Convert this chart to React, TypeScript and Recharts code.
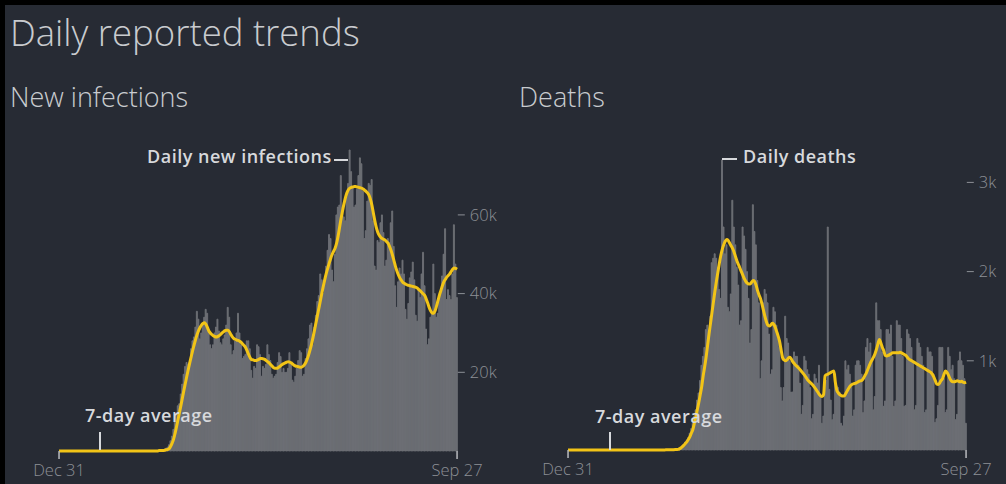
import React from 'react';
import { ComposedChart, Bar, Line, XAxis, YAxis } from 'recharts';

// Daily reported trends, Dec 31 2019 - Sep 27 2020 (one value per day)
const START_DATE = '2019-12-31';
const X_TICKS = ['Dec 31', 'Sep 27'];
const INFECTION_TICKS = [20, 40, 60];
const DEATH_TICKS = [1000, 2000, 3000];

// new infections, thousands
const infectionsDaily = [
  0,
  0, 0, 0, 0, 0, 0, 0, 0, 0, 0, 0, 0, 0, 0, 0, 0, 0, 0, 0, 0, 0, 0, 0, 0, 0, 0, 0, 0, 0, 0, 0,
  0, 0, 0, 0, 0, 0, 0, 0, 0, 0, 0, 0, 0, 0, 0, 0, 0, 0, 0, 0, 0, 0, 0, 0, 0, 0, 0, 0, 0,
  0, 0, 0, 0, 0.1, 0.1, 0.1, 0.1, 0.2, 0.3, 0.4, 0.5, 0.7, 1.0, 1.6, 2.6, 3.8, 5.5, 7.5, 9.5,
  11.5, 12.0, 14.5, 17.0, 19.5, 21.5, 22.5, 22.0, 22.5, 26.0, 28.0,
  29.0, 31.5, 35.5, 33.5, 28.5, 30.0, 32.0, 34.0, 36.0, 35.0, 31.0, 27.0, 26.0, 27.0, 30.0,
  31.5, 33.5, 30.5, 27.5, 27.0, 28.5, 29.5, 32.0, 36.5, 34.0, 27.0, 24.5, 25.5, 28.0, 30.0,
  35.0, 30.0, 27.0, 23.5, 24.0, 24.5, 28.0, 28.0, 26.0, 20.5, 18.5, 21.5, 21.0, 27.0, 26.5, 24.5,
  19.0, 21.5, 21.0, 22.0, 27.0, 24.5, 23.0, 19.5, 18.5, 19.0, 19.5, 22.5, 25.0, 24.0, 20.0,
  21.0, 20.0, 20.0, 21.0, 25.0, 22.5, 18.0, 17.5, 19.0, 21.0, 23.0, 25.5, 25.0, 19.0, 19.5,
  23.5, 26.0, 28.5, 32.0, 32.5, 27.0, 31.5, 34.5, 38.0, 39.5, 45.0, 43.5, 40.0, 42.5, 47.0,
  51.0, 55.0, 54.0, 46.0, 43.0, 50.0, 60.0, 62.0, 62.5, 70.0, 62.0, 59.5, 58.5, 64.5, 68.0, 76.5,
  71.0, 67.0, 62.0, 62.5, 66.5, 70.0, 74.5, 73.0, 66.0, 54.0, 56.0, 63.5, 68.0, 67.5, 69.0,
  58.5, 47.0, 46.0, 53.5, 53.0, 58.0, 60.0, 55.5, 47.0, 48.5, 54.0, 53.0, 58.0, 61.0, 52.0, 42.0,
  36.5, 43.0, 46.5, 45.0, 48.5, 45.0, 36.0, 33.5, 37.5, 44.0, 45.5, 48.0, 43.5, 34.5, 33.0,
  41.0, 39.0, 45.0, 50.5, 42.0, 31.0, 27.0, 28.5, 34.0, 35.5, 47.5, 40.0, 34.0, 35.0,
  39.5, 40.5, 44.5, 50.0, 56.5, 38.5, 41.0, 39.5, 38.5, 45.0, 57.5, 47.5, 39.0,
];

const infectionsAvg = [
  0,
  0, 0, 0, 0, 0, 0, 0, 0, 0, 0, 0, 0, 0, 0, 0, 0, 0, 0, 0, 0, 0, 0, 0, 0, 0, 0, 0, 0, 0, 0, 0,
  0, 0, 0, 0, 0, 0, 0, 0, 0, 0, 0, 0, 0, 0, 0, 0, 0, 0, 0, 0, 0, 0, 0, 0, 0, 0, 0, 0, 0,
  0, 0, 0, 0, 0, 0, 0, 0.1, 0.1, 0.1, 0.1, 0.2, 0.3, 0.4, 0.6, 1.2, 2.0, 3.0, 4.5, 6.2,
  8.0, 9.8, 11.6, 13.5, 15.4, 17.2, 19.0, 20.7, 22.4, 24.0, 25.6,
  27.0, 28.4, 29.6, 30.6, 31.4, 32.0, 32.4, 32.6, 32.2, 31.4, 30.5, 30.0, 29.6, 29.3, 29.1,
  29.0, 29.1, 29.3, 29.6, 30.0, 30.3, 30.6, 30.7, 30.7, 30.3, 29.6, 29.0, 28.6, 28.4, 28.2,
  28.1, 27.9, 27.6, 27.2, 26.8, 26.3, 25.5, 24.6, 23.8, 23.2, 23.2, 23.0, 23.0, 23.1, 23.3, 23.5,
  23.5, 23.4, 23.3, 23.0, 22.7, 22.4, 22.0, 21.6, 21.2, 21.0, 21.0, 21.1, 21.4, 21.7, 22.0,
  22.2, 22.4, 22.6, 22.7, 22.6, 22.4, 22.1, 21.8, 21.6, 21.5, 21.4, 21.3, 21.3, 21.5, 21.9,
  22.5, 23.4, 24.5, 25.8, 27.3, 29.0, 30.8, 32.7, 34.6, 36.4, 38.3, 40.2, 42.0, 43.7, 45.2,
  46.5, 47.8, 49.0, 50.0, 50.8, 51.6, 52.8, 54.6, 56.8, 59.0, 61.0, 62.8, 64.4, 65.6, 66.4, 66.8,
  67.0, 67.1, 67.2, 67.2, 67.1, 67.0, 66.9, 66.8, 66.6, 66.3, 66.0, 65.6, 65.0, 64.0, 62.5,
  60.5, 58.5, 56.8, 55.6, 54.8, 54.3, 54.0, 53.8, 53.6, 53.2, 52.8, 52.0, 51.0, 49.8, 48.4, 47.0,
  45.8, 44.8, 44.0, 43.4, 42.9, 42.6, 42.4, 42.2, 42.1, 42.0, 41.9, 41.8, 41.7, 41.6, 41.4,
  41.0, 40.7, 40.3, 39.9, 39.5, 38.6, 37.6, 36.5, 35.6, 35.1, 35.0, 35.6, 36.8, 38.2,
  39.6, 40.8, 42.0, 43.0, 43.6, 44.2, 44.6, 45.0, 45.6, 46.2, 46.5, 46.4, 46.2,
];

// deaths, people
const deathsDaily = [
  0,
  0, 0, 0, 0, 0, 0, 0, 0, 0, 0, 0, 0, 0, 0, 0, 0, 0, 0, 0, 0, 0, 0, 0, 0, 0, 0, 0, 0, 0, 0, 0,
  0, 0, 0, 0, 0, 0, 0, 0, 0, 0, 0, 0, 0, 0, 0, 0, 0, 0, 0, 0, 0, 0, 0, 0, 0, 0, 0, 0, 1,
  0, 1, 4, 1, 1, 2, 2, 1, 4, 4, 4, 7, 9, 10, 10, 20, 30, 45, 65, 90,
  110, 140, 190, 240, 300, 380, 450, 560, 640, 780, 950,
  1050, 1150, 1350, 1400, 1250, 1500, 2100, 2150, 2200, 2150, 2050, 1800, 1700, 3250, 2500,
  2200, 2300, 1600, 1550, 1750, 2800, 2500, 2300, 2050, 1850, 1400, 1450, 2500, 2400, 2250,
  2000, 1700, 1200, 1350, 2750, 2450, 2300, 1900, 1650, 800, 1000, 1650, 1800, 1750, 1650, 1300,
  850, 900, 1600, 1550, 1400, 1250, 1150, 700, 550, 700, 1500, 1250, 1200, 1000, 650,
  650, 1100, 1050, 1050, 950, 750, 400, 500, 1050, 1000, 900, 850, 700, 350, 400,
  850, 800, 750, 950, 600, 300, 380, 750, 780, 2500, 680, 560, 340, 400, 850,
  720, 700, 650, 300, 270, 380, 1000, 900, 950, 850, 750, 380, 450, 950, 1000, 1000,
  950, 850, 420, 550, 1150, 1250, 1100, 1200, 1000, 450, 600, 1650, 1450, 1450, 1350,
  1100, 490, 550, 1350, 1350, 1300, 1400, 1050, 490, 550, 1450, 1400, 1400, 1250, 1050, 490,
  500, 1350, 1300, 1250, 1150, 1000, 450, 500, 1250, 1200, 1150, 1050, 950, 420, 450,
  1150, 1100, 1100, 1050, 850, 310, 350, 500, 1150, 1150, 1150, 800, 420, 450,
  1150, 1050, 900, 950, 800, 340, 400, 1000, 1100, 1000, 950, 800, 300,
];

const deathsAvg = [
  0,
  0, 0, 0, 0, 0, 0, 0, 0, 0, 0, 0, 0, 0, 0, 0, 0, 0, 0, 0, 0, 0, 0, 0, 0, 0, 0, 0, 0, 0, 0, 0,
  0, 0, 0, 0, 0, 0, 0, 0, 0, 0, 0, 0, 0, 0, 0, 0, 0, 0, 0, 0, 0, 0, 0, 0, 0, 0, 0, 0, 0,
  0, 0, 0, 0, 1, 1, 2, 2, 2, 2, 3, 4, 5, 6, 7, 15, 25, 40, 55, 75,
  95, 120, 150, 190, 230, 300, 370, 450, 530, 620, 710,
  830, 930, 1040, 1170, 1300, 1420, 1540, 1660, 1780, 1890, 1990, 2090, 2180, 2250, 2300,
  2340, 2360, 2350, 2320, 2290, 2260, 2220, 2170, 2120, 2080, 2040, 2000, 1960, 1920, 1890,
  1870, 1860, 1860, 1880, 1900, 1890, 1850, 1790, 1740, 1700, 1640, 1570, 1500, 1440, 1400, 1390,
  1400, 1420, 1410, 1380, 1330, 1280, 1220, 1130, 1040, 1010, 1000, 1010, 1030, 1040, 1020,
  990, 970, 950, 935, 920, 900, 880, 860, 840, 815, 790, 770, 755, 740, 720,
  700, 675, 650, 625, 605, 600, 620, 830, 845, 850, 860, 870, 880, 885, 760,
  670, 640, 620, 610, 605, 605, 630, 660, 690, 715, 730, 740, 745, 750, 760, 770,
  775, 780, 800, 830, 860, 900, 940, 980, 1010, 1040, 1080, 1130, 1190, 1240, 1200,
  1150, 1110, 1060, 1055, 1060, 1070, 1080, 1090, 1090, 1090, 1090, 1090, 1095, 1090, 1080, 1070,
  1060, 1040, 1020, 1010, 1000, 990, 980, 970, 960, 950, 940, 930, 920, 910, 900,
  890, 880, 870, 850, 820, 780, 740, 735, 750, 780, 800, 850, 885, 870,
  840, 800, 775, 765, 765, 770, 775, 770, 765, 770, 760, 755, 760,
];

const MONTHS = ['Jan', 'Feb', 'Mar', 'Apr', 'May', 'Jun', 'Jul', 'Aug', 'Sep', 'Oct', 'Nov', 'Dec'];

const dates = infectionsDaily.map((_, i) => {
  const d = new Date(START_DATE + 'T00:00:00Z');
  d.setUTCDate(d.getUTCDate() + i);
  return `${MONTHS[d.getUTCMonth()]} ${d.getUTCDate()}`;
});

const infectionRows = dates.map((date, i) => ({ date, daily: infectionsDaily[i], avg: infectionsAvg[i] }));
const deathRows = dates.map((date, i) => ({ date, daily: deathsDaily[i], avg: deathsAvg[i] }));

const BG = '#272b34';
const BAR = '#6e7176';
const YELLOW = '#f2c417';
const TEXT = '#c9cbcf';
const NOTE = '#d7d9dc';
const TICK = '#8d9096';
const FONT = '"Open Sans", sans-serif';

const tickStyle = { fill: TICK, fontSize: 16.5, fontFamily: FONT, fontWeight: 300 };

const PLOT_W = 399.5;

interface PanelProps {
  rows: { date: string; daily: number; avg: number }[];
  left: number;
  width: number;
  top: number;
  xHeight: number;
  domain: [number, number];
  ticks: number[];
  fmt: (v: number) => string;
  yWidth: number;
}

const Panel: React.FC<PanelProps> = ({ rows, left, width, top, xHeight, domain, ticks, fmt, yWidth }) => (
  <div style={{ position: 'absolute', left, top: 0 }}>
    <ComposedChart
      width={width}
      height={484}
      data={rows}
      margin={{ top, right: 0.2, bottom: 0, left: 58.3 }}
      barCategoryGap={0}
      barGap={0}
    >
      <XAxis
        dataKey="date"
        ticks={X_TICKS}
        interval={0}
        axisLine={false}
        tickLine={{ stroke: '#b9bbbf', strokeWidth: 1.5 }}
        tickSize={8}
        tickMargin={5}
        height={xHeight}
        tick={tickStyle}
      />
      <YAxis
        orientation="right"
        domain={domain}
        ticks={ticks}
        tickFormatter={fmt}
        axisLine={false}
        tickLine={{ stroke: TICK, strokeWidth: 1 }}
        tickSize={7}
        tickMargin={5}
        width={yWidth}
        tick={tickStyle}
      />
      <Bar dataKey="daily" fill={BAR} stroke={BAR} strokeWidth={0.9} isAnimationActive={false} />
      <Line
        dataKey="avg"
        type="monotone"
        stroke={YELLOW}
        strokeWidth={3}
        dot={false}
        isAnimationActive={false}
      />
    </ComposedChart>
  </div>
);

const noteStyle = { fill: NOTE, fontSize: 18, fontFamily: FONT, fontWeight: 600, letterSpacing: 0.5 };

export default function App() {
  return (
    <div style={{ position: 'relative', width: 1006, height: 484, background: BG, overflow: 'hidden' }}>
      <style>{`body{margin:0;background:#000}`}</style>
      <Panel
        rows={infectionRows}
        left={0}
        width={58.3 + PLOT_W + 50 + 0.2}
        top={136.2}
        xHeight={33}
        domain={[0, 80]}
        ticks={INFECTION_TICKS}
        fmt={(v) => `${v}k`}
        yWidth={50}
      />
      <Panel
        rows={deathRows}
        left={509}
        width={58.3 + PLOT_W + 39 + 0.2}
        top={137.8}
        xHeight={34}
        domain={[0, 3500]}
        ticks={DEATH_TICKS}
        fmt={(v) => `${v / 1000}k`}
        yWidth={39}
      />
      <svg width={1006} height={484} style={{ position: 'absolute', left: 0, top: 0, pointerEvents: 'none' }}>
        {/* dark frame of the original screenshot */}
        <rect x={0} y={0} width={1006} height={5} fill="#000" />
        <rect x={0} y={0} width={5} height={484} fill="#000" />

        <text x={10} y={46} fill={TEXT} fontSize={36.5} fontFamily={FONT} fontWeight={300}>
          Daily reported trends
        </text>
        <text x={10} y={107} fill={TEXT} fontSize={27} fontFamily={FONT} fontWeight={300}>
          New infections
        </text>
        <text x={519} y={107} fill={TEXT} fontSize={27} fontFamily={FONT} fontWeight={300}>
          Deaths
        </text>

        <text x={147} y={163} {...noteStyle}>Daily new infections</text>
        <line x1={334} x2={348} y1={160} y2={160} stroke={NOTE} strokeWidth={2} />
        <text x={85} y={422} {...noteStyle}>7-day average</text>
        <line x1={100} x2={100} y1={432} y2={450} stroke={NOTE} strokeWidth={2} />

        <text x={743} y={163} {...noteStyle}>Daily deaths</text>
        <line x1={722} x2={737} y1={159} y2={159} stroke={NOTE} strokeWidth={2} />
        <text x={595} y={423} {...noteStyle}>7-day average</text>
        <line x1={610} x2={610} y1={432} y2={450} stroke={NOTE} strokeWidth={2} />
      </svg>
    </div>
  );
}
